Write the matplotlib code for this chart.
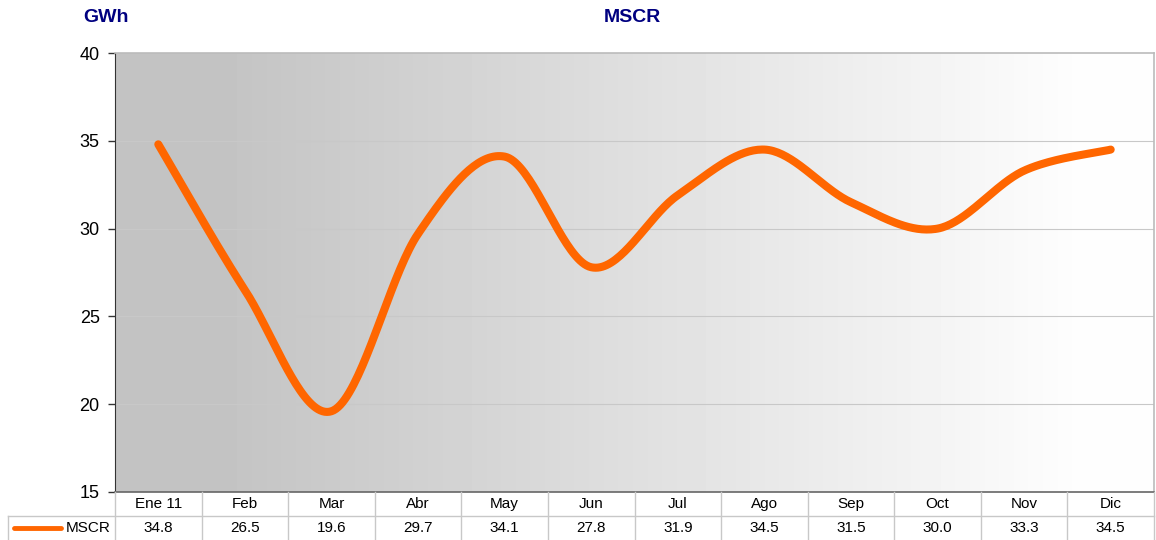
"""MSCR monthly energy (GWh) - smoothed line with a data table underneath."""

import matplotlib
matplotlib.use("Agg")
import matplotlib.pyplot as plt
import numpy as np

plt.rcParams["font.family"] = ["Liberation Sans", "DejaVu Sans"]

MONTHS = ["Ene 11", "Feb", "Mar", "Abr", "May", "Jun", "Jul", "Ago", "Sep", "Oct", "Nov", "Dic"]
MSCR = [34.8, 26.5, 19.6, 29.7, 34.1, 27.8, 31.9, 34.5, 31.5, 30.0, 33.3, 34.5]
Y_TICKS = [15, 20, 25, 30, 35, 40]
SERIES_NAME = "MSCR"
UNIT = "GWh"

W, H = 1156, 540
ORANGE = "#FF6600"
NAVY = "#000080"
GRID = "#C8C8C8"


def px(x):
    return x / W


def py(y):
    return 1 - y / H


def smooth(xs, ys, n=40):
    """Excel-style smoothed line: cubic Bezier segments with 1/6 tangents."""
    pts = np.column_stack([xs, ys]).astype(float)
    ext = np.vstack([pts[0], pts, pts[-1]])
    out = []
    t = np.linspace(0, 1, n)[:, None]
    for i in range(len(pts) - 1):
        p0, p3 = ext[i + 1], ext[i + 2]
        c1 = p0 + (ext[i + 2] - ext[i]) / 6
        c2 = p3 - (ext[i + 3] - ext[i + 1]) / 6
        seg = ((1 - t) ** 3) * p0 + 3 * ((1 - t) ** 2) * t * c1 + 3 * (1 - t) * t ** 2 * c2 + t ** 3 * p3
        out.append(seg if i == 0 else seg[1:])
    seg = np.vstack(out)
    return seg[:, 0], seg[:, 1]


fig = plt.figure(figsize=(W / 100, H / 100), dpi=100)
left, right, top, bottom = 115, 1154, 53, 492
ax = fig.add_axes([px(left), py(bottom), px(right - left), (bottom - top) / H])

n = len(MONTHS)
x = np.arange(n)
ax.set_xlim(-0.5, n - 0.5)
ax.set_ylim(Y_TICKS[0], Y_TICKS[-1])

# gray-to-white gradient background
grad = np.linspace(0, 1, 256)
shade = 0.765 + (0.995 - 0.765) * np.clip(grad * 1.2 - 0.12, 0, 1)
img = np.tile(shade, (2, 1))
ax.imshow(img, extent=[-0.5, n - 0.5, Y_TICKS[0], Y_TICKS[-1]], aspect="auto",
          cmap="gray", vmin=0, vmax=1, zorder=0, interpolation="bilinear")

for yv in Y_TICKS[1:-1]:
    ax.axhline(yv, color=GRID, lw=0.8, zorder=1)

sx, sy = smooth(x, MSCR)
ax.plot(sx, sy, color=ORANGE, lw=5.8, solid_capstyle="round", zorder=3)

ax.set_yticks(Y_TICKS)
ax.set_xticks([])
ax.tick_params(axis="y", direction="out", length=5, width=1, labelsize=13, pad=6, color="#333333")
for side in ["top", "right"]:
    ax.spines[side].set_color("#BBBBBB")
    ax.spines[side].set_linewidth(1.2)
ax.spines["left"].set_color("#333333")
ax.spines["bottom"].set_color("#666666")
ax.spines["bottom"].set_linewidth(1.2)

fig.text(px(106), py(18), UNIT, color=NAVY, fontsize=14, fontweight="bold", ha="center", va="center")
fig.text(px(632), py(18), SERIES_NAME, color=NAVY, fontsize=14, fontweight="bold", ha="center", va="center")

# data table
col_w = (right - left) / n
row1, row2, row3 = 492, 516, 540
tkw = dict(transform=fig.transFigure, color=GRID, lw=1, clip_on=False)
fig.add_artist(plt.Line2D([px(8), px(right)], [py(row2), py(row2)], **tkw))
fig.add_artist(plt.Line2D([px(right), px(right)], [py(row1), py(row3)], **tkw))
fig.add_artist(plt.Line2D([px(8), px(8)], [py(row2), py(row3)], **tkw))
for i in range(n):
    xl = left + i * col_w
    fig.add_artist(plt.Line2D([px(xl), px(xl)], [py(row1), py(row3)], **tkw))
    xc = xl + col_w / 2
    fig.text(px(xc), py((row1 + row2) / 2), MONTHS[i], fontsize=11, ha="center", va="center")
    fig.text(px(xc), py((row2 + row3) / 2), f"{MSCR[i]:.1f}", fontsize=11, ha="center", va="center")

fig.add_artist(plt.Line2D([px(14), px(61)], [py(528), py(528)], transform=fig.transFigure,
                          color=ORANGE, lw=3.5, solid_capstyle="round"))
fig.text(px(66), py(528), SERIES_NAME, fontsize=11, ha="left", va="center")

fig.savefig("out.png", dpi=100)
